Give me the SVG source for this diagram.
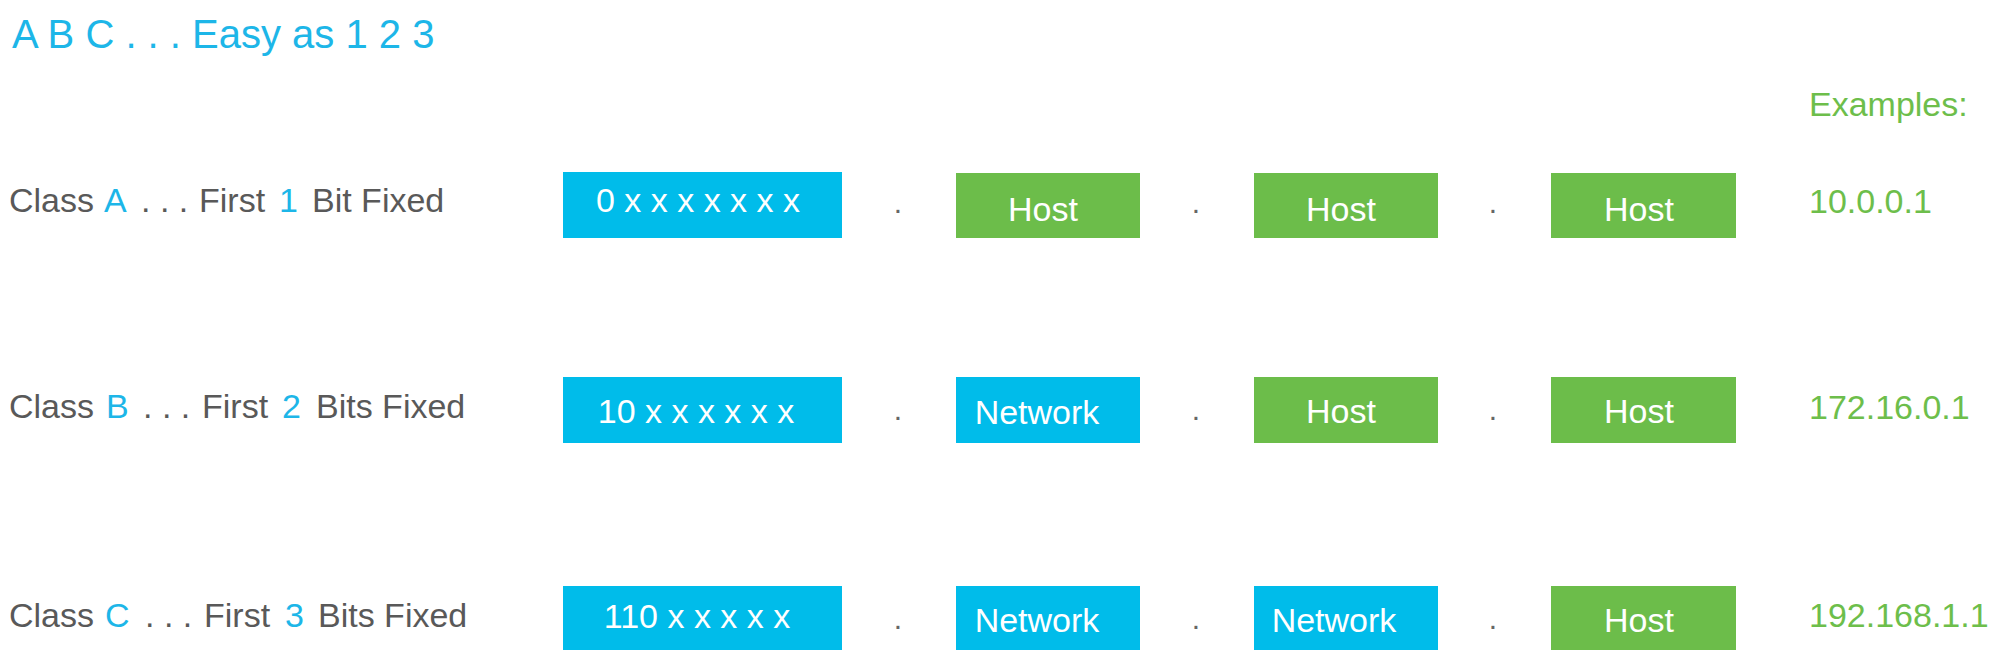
<svg xmlns="http://www.w3.org/2000/svg" width="1997" height="650" viewBox="0 0 1997 650">
<style>
text{font-family:"Liberation Sans",Arial,sans-serif;}
.lbl{font-size:34px;fill:#595959;}
.hl{fill:#1DB6E8;}
.title{font-size:40px;fill:#1DB6E8;}
.ex{font-size:34px;fill:#6DBE4B;}
.blue{fill:#00BCEA;}
.green{fill:#6CBD4A;}
.bt{font-size:34px;fill:#FFFFFF;text-anchor:middle;}
.dot{font-size:30px;fill:#666666;text-anchor:middle;}
</style>
<rect width="1997" height="650" fill="#FFFFFF"/>
<g id="title"><text class="title" x="12" y="48">A B C . . . Easy as 1 2 3</text></g>
<g id="examples-heading"><text class="ex" x="1809" y="116">Examples:</text></g>

<g id="classA-label"><text class="lbl" y="212"><tspan x="9">Class</tspan><tspan x="104" class="hl">A</tspan><tspan x="141">. . .</tspan><tspan x="199">First</tspan><tspan x="279" class="hl">1</tspan><tspan x="312">Bit Fixed</tspan></text></g>
<g id="classB-label"><text class="lbl" y="418"><tspan x="9">Class</tspan><tspan x="106" class="hl">B</tspan><tspan x="143">. . .</tspan><tspan x="202">First</tspan><tspan x="282" class="hl">2</tspan><tspan x="316">Bits Fixed</tspan></text></g>
<g id="classC-label"><text class="lbl" y="627"><tspan x="9">Class</tspan><tspan x="105" class="hl">C</tspan><tspan x="145">. . .</tspan><tspan x="204">First</tspan><tspan x="285" class="hl">3</tspan><tspan x="318">Bits Fixed</tspan></text></g>

<g id="A1"><rect class="blue" x="563" y="172" width="279" height="66"/><text class="bt" x="698" y="212">0 x x x x x x x</text></g>
<g id="A2"><rect class="green" x="956" y="173" width="184" height="65"/><text class="bt" x="1043" y="221">Host</text></g>
<g id="A3"><rect class="green" x="1254" y="173" width="184" height="65"/><text class="bt" x="1341" y="221">Host</text></g>
<g id="A4"><rect class="green" x="1551" y="173" width="185" height="65"/><text class="bt" x="1639" y="221">Host</text></g>
<g id="A-example"><text class="ex" x="1809" y="213">10.0.0.1</text></g>

<g id="B1"><rect class="blue" x="563" y="377" width="279" height="66"/><text class="bt" x="696" y="423">10 x x x x x x</text></g>
<g id="B2"><rect class="blue" x="956" y="377" width="184" height="66"/><text class="bt" x="1037" y="424">Network</text></g>
<g id="B3"><rect class="green" x="1254" y="377" width="184" height="66"/><text class="bt" x="1341" y="423">Host</text></g>
<g id="B4"><rect class="green" x="1551" y="377" width="185" height="66"/><text class="bt" x="1639" y="423">Host</text></g>
<g id="B-example"><text class="ex" x="1809" y="419">172.16.0.1</text></g>

<g id="C1"><rect class="blue" x="563" y="586" width="279" height="66"/><text class="bt" x="697" y="628">110 x x x x x</text></g>
<g id="C2"><rect class="blue" x="956" y="586" width="184" height="66"/><text class="bt" x="1037" y="632">Network</text></g>
<g id="C3"><rect class="blue" x="1254" y="586" width="184" height="66"/><text class="bt" x="1334" y="632">Network</text></g>
<g id="C4"><rect class="green" x="1551" y="586" width="185" height="66"/><text class="bt" x="1639" y="632">Host</text></g>
<g id="C-example"><text class="ex" x="1809" y="627">192.168.1.1</text></g>

<g id="connectors">
<text class="dot" x="898" y="213">.</text><text class="dot" x="1196" y="213">.</text><text class="dot" x="1493" y="213">.</text>
<text class="dot" x="898" y="420">.</text><text class="dot" x="1196" y="420">.</text><text class="dot" x="1493" y="420">.</text>
<text class="dot" x="898" y="629">.</text><text class="dot" x="1196" y="629">.</text><text class="dot" x="1493" y="629">.</text>
</g>
</svg>
